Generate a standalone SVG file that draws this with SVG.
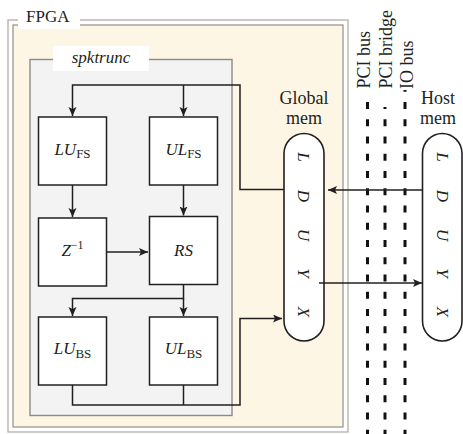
<svg xmlns="http://www.w3.org/2000/svg" width="463" height="434" viewBox="0 0 463 434">
<style>
text{font-family:"Liberation Serif",serif;fill:#231f20}
.blk{fill:#fff;stroke:#231f20;stroke-width:1.5}
.cap{fill:#fff;stroke:#231f20;stroke-width:1.6}
.ln{fill:none;stroke:#231f20;stroke-width:1.5}
.bus{fill:none;stroke:#111;stroke-width:3;stroke-dasharray:7 10.25}
.bl{font-size:17px;text-anchor:middle}
.it{font-style:italic}
.lab{font-size:18px}
.ml{font-size:17px;font-style:italic;text-anchor:middle}
</style>
<defs>
<marker id="ah" markerUnits="userSpaceOnUse" markerWidth="10" markerHeight="9" refX="9" refY="4" orient="auto">
<path d="M0,0 L9,4 L0,8 L2,4 z" fill="#231f20"/>
</marker>
</defs>
<rect width="463" height="434" fill="#fff"/>
<g id="fpga">
<rect x="8" y="20" width="340" height="412" fill="#fff" stroke="#b4b0aa" stroke-width="1.3"/>
<rect x="13" y="25" width="330" height="402" fill="#fef6e4" stroke="#9a9893" stroke-width="1.3"/>
<rect x="18" y="5" width="62" height="24" fill="#fff"/>
<text x="26" y="22" style="font-size:17px">FPGA</text>
</g>
<g id="spktrunc">
<rect x="30" y="59.5" width="202" height="356" fill="#f3f3f3" stroke="#8a8a8a" stroke-width="1.4"/>
<rect x="53" y="46" width="96" height="25" fill="#fff"/>
<text x="101" y="63" class="it" style="font-size:17px" text-anchor="middle">spktrunc</text>
</g>
<g id="LU_FS">
<rect class="blk" x="38.5" y="117" width="68" height="68"/>
<text class="bl" x="72.5" y="154.5"><tspan class="it">LU</tspan><tspan font-size="13" dy="3.5">FS</tspan></text>
</g>
<g id="UL_FS">
<rect class="blk" x="149.5" y="117" width="68" height="68"/>
<text class="bl" x="183.5" y="154.5"><tspan class="it">UL</tspan><tspan font-size="13" dy="3.5">FS</tspan></text>
</g>
<g id="Z">
<rect class="blk" x="38.5" y="218" width="68" height="68"/>
<text class="bl" x="72.5" y="256"><tspan class="it">Z</tspan><tspan font-size="12" dy="-7">−1</tspan></text>
</g>
<g id="RS">
<rect class="blk" x="149.5" y="216.5" width="68" height="68"/>
<text class="bl it" x="183.5" y="256">RS</text>
</g>
<g id="LU_BS">
<rect class="blk" x="38.5" y="317" width="68" height="68"/>
<text class="bl" x="72.5" y="353.5"><tspan class="it">LU</tspan><tspan font-size="13" dy="4">BS</tspan></text>
</g>
<g id="UL_BS">
<rect class="blk" x="149.5" y="317" width="68" height="68"/>
<text class="bl" x="183.5" y="353.5"><tspan class="it">UL</tspan><tspan font-size="13" dy="4">BS</tspan></text>
</g>
<g id="global_mem">
<text class="lab" x="304" y="104" text-anchor="middle">Global</text>
<text class="lab" x="304" y="124" text-anchor="middle">mem</text>
<rect class="cap" x="284" y="133.5" width="40" height="207.5" rx="20" ry="20"/>
<text class="ml" transform="translate(304,157) rotate(90)" dy="6">L</text>
<text class="ml" transform="translate(304,196) rotate(90)" dy="6">D</text>
<text class="ml" transform="translate(304,235) rotate(90)" dy="6">U</text>
<text class="ml" transform="translate(304,273) rotate(90)" dy="6">Y</text>
<text class="ml" transform="translate(304,312) rotate(90)" dy="6">X</text>
</g>
<g id="host_mem">
<text class="lab" x="438" y="104" text-anchor="middle">Host</text>
<text class="lab" x="438" y="124" text-anchor="middle">mem</text>
<rect class="cap" x="422.5" y="133.5" width="39.5" height="207.5" rx="19.75" ry="20"/>
<text class="ml" transform="translate(442.5,157) rotate(90)" dy="6">L</text>
<text class="ml" transform="translate(442.5,196) rotate(90)" dy="6">D</text>
<text class="ml" transform="translate(442.5,235) rotate(90)" dy="6">U</text>
<text class="ml" transform="translate(442.5,273) rotate(90)" dy="6">Y</text>
<text class="ml" transform="translate(442.5,312) rotate(90)" dy="6">X</text>
</g>
<g id="buses">
<text class="lab" transform="translate(370,88.5) rotate(-90)">PCI bus</text>
<text class="lab" transform="translate(391.5,88.5) rotate(-90)">PCI bridge</text>
<text class="lab" transform="translate(413,89) rotate(-90)">IO bus</text>
<line class="bus" x1="367.5" y1="102" x2="367.5" y2="434"/>
<line class="bus" x1="385" y1="107" x2="385" y2="434" stroke-dashoffset="5"/>
<line class="bus" x1="405" y1="90" x2="405" y2="434" stroke-dashoffset="5.25"/>
</g>
<g id="connectors">
<path class="ln" d="M284,189.5 H240 V85 H72.5 V116" marker-end="url(#ah)"/>
<path class="ln" d="M183.5,85 V116" marker-end="url(#ah)"/>
<path class="ln" d="M72.5,185 V217" marker-end="url(#ah)"/>
<path class="ln" d="M183.5,185 V215.5" marker-end="url(#ah)"/>
<path class="ln" d="M106.5,252 H148" marker-end="url(#ah)"/>
<path class="ln" d="M183.5,284.5 V298.5 H72.5 V316" marker-end="url(#ah)"/>
<path class="ln" d="M183.5,298.5 V316" marker-end="url(#ah)"/>
<path class="ln" d="M72.5,385 V405 H240 V318.5 H282" marker-end="url(#ah)"/>
<path class="ln" d="M183.5,385 V405"/>
<path class="ln" d="M422.5,190 H328" marker-end="url(#ah)"/>
<path class="ln" d="M319,283 H422" marker-end="url(#ah)"/>
</g>
</svg>
